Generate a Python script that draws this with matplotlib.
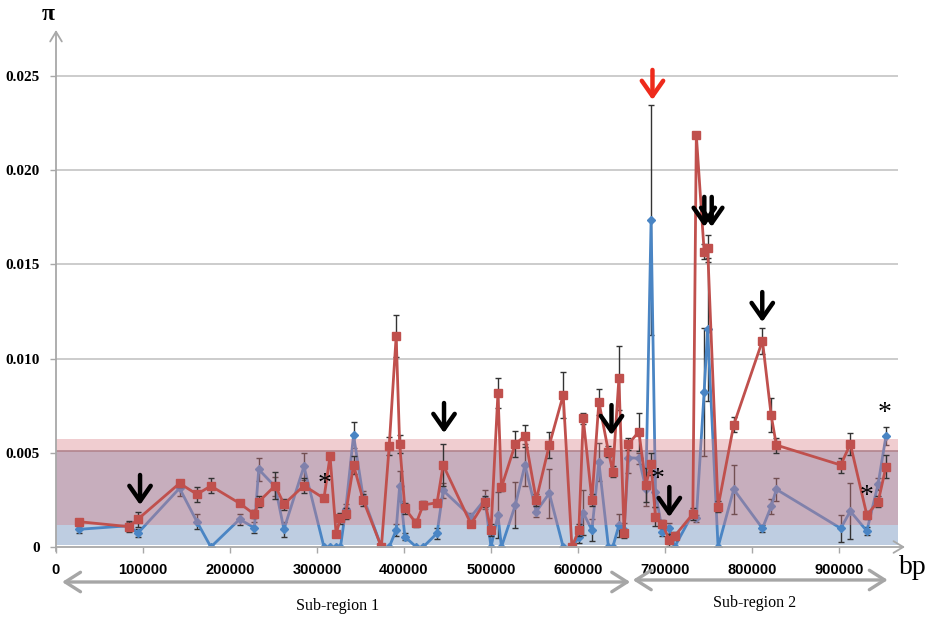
import numpy as np
import matplotlib
matplotlib.use("Agg")
import matplotlib.pyplot as plt

# ---------------- data ----------------
pos_bp = [27000, 84000, 94000, 142000, 162000, 178000, 211000, 228000, 233000, 252000,
          262000, 285000, 308000, 315000, 322000, 327000, 333000, 342000, 353000, 374000,
          383000, 391000, 395000, 401000, 414000, 422000, 438000, 445000, 477000, 493000,
          500000, 508000, 512000, 528000, 539000, 552000, 567000, 583000, 593000, 601000,
          606000, 616000, 624000, 635000, 640000, 647000, 653000, 658000, 670000, 678000,
          684000, 689000, 697000, 705000, 711000, 732000, 736000, 745000, 749000, 761000,
          779000, 812000, 822000, 828000, 902000, 913000, 932000, 945000, 954000]

pi_red = [0.00134, 0.00108, 0.00147, 0.00338, 0.00280, 0.00324, 0.00232, 0.00174, 0.00240, 0.00326,
          0.00227, 0.00326, 0.00258, 0.00483, 0.00069, 0.00152, 0.00177, 0.00435, 0.00250, 0.00000,
          0.00536, 0.01120, 0.00547, 0.00205, 0.00126, 0.00223, 0.00235, 0.00435, 0.00122, 0.00240,
          0.00090, 0.00819, 0.00317, 0.00547, 0.00589, 0.00250, 0.00541, 0.00807, 0.00000, 0.00090,
          0.00683, 0.00250, 0.00771, 0.00506, 0.00400, 0.00895, 0.00073, 0.00547, 0.00612, 0.00329,
          0.00440, 0.00161, 0.00122, 0.00037, 0.00058, 0.00175, 0.02187, 0.01567, 0.01585, 0.00214,
          0.00648, 0.01095, 0.00700, 0.00541, 0.00435, 0.00547, 0.00170, 0.00240, 0.00426]

pi_blue = [0.00094, 0.00113, 0.00073, 0.00312, 0.00134, 0.00000, 0.00147, 0.00102, 0.00412, 0.00320,
           0.00094, 0.00428, 0.00000, 0.00000, 0.00000, 0.00000, 0.00200, 0.00594, 0.00267, 0.00000,
           0.00000, 0.00090, 0.00324, 0.00055, 0.00000, 0.00000, 0.00073, 0.00300, 0.00161, 0.00253,
           0.00000, 0.00170, 0.00000, 0.00223, 0.00435, 0.00188, 0.00285, 0.00000, 0.00000, 0.00051,
           0.00182, 0.00090, 0.00450, 0.00000, 0.00000, 0.00115, 0.00090, 0.00474, 0.00471, 0.00310,
           0.01736, 0.00294, 0.00081, 0.00099, 0.00000, 0.00179, 0.00152, 0.00824, 0.01156, 0.00000,
           0.00306, 0.00099, 0.00215, 0.00306, 0.00099, 0.00190, 0.00085, 0.00335, 0.00589]

err_red = [0.0001, 0.0003, 0.0004, 0.0002, 0.0004, 0.0004, 0.0001, 0.0002, 0.0003, 0.0007,
           0.0003, 0.0004, 0.0001, 0.0001, 0.0001, 0.0003, 0.0003, 0.0005, 0.0003, 0.0000,
           0.0005, 0.0011, 0.0005, 0.0003, 0.0002, 0.0002, 0.0001, 0.0011, 0.0001, 0.0003,
           0.0003, 0.0008, 0.0002, 0.0007, 0.0006, 0.0003, 0.0007, 0.0012, 0.0000, 0.0003,
           0.0003, 0.0003, 0.0007, 0.0003, 0.0003, 0.0017, 0.0001, 0.0003, 0.0010, 0.0009,
           0.0006, 0.0005, 0.0002, 0.0003, 0.0002, 0.0003, 0.0000, 0.0004, 0.0007, 0.0003,
           0.0004, 0.0007, 0.0009, 0.0004, 0.0004, 0.0006, 0.0002, 0.0003, 0.0006]

err_blue = [0.0002, 0.0002, 0.0002, 0.0004, 0.0004, 0.0000, 0.0003, 0.0003, 0.0006, 0.0005,
            0.0004, 0.0007, 0.0000, 0.0000, 0.0000, 0.0000, 0.0003, 0.0007, 0.0003, 0.0000,
            0.0000, 0.0003, 0.0008, 0.0002, 0.0000, 0.0000, 0.0003, 0.0004, 0.0002, 0.0005,
            0.0000, 0.0012, 0.0000, 0.0012, 0.0011, 0.0003, 0.0013, 0.0000, 0.0000, 0.0003,
            0.0012, 0.0006, 0.0010, 0.0000, 0.0000, 0.0006, 0.0004, 0.0008, 0.0003, 0.0009,
            0.0061, 0.0008, 0.0002, 0.0003, 0.0000, 0.0002, 0.0002, 0.0034, 0.0038, 0.0000,
            0.0013, 0.0002, 0.0004, 0.0006, 0.0007, 0.0015, 0.0002, 0.0003, 0.0005]

x_ticks = [0, 100000, 200000, 300000, 400000, 500000, 600000, 700000, 800000, 900000]
x_tick_labels = ["0", "100000", "200000", "300000", "400000", "500000", "600000",
                 "700000", "800000", "900000"]
y_ticks = [0, 0.005, 0.010, 0.015, 0.020, 0.025]
y_tick_labels = ["0", "0.005", "0.010", "0.015", "0.020", "0.025"]

# shaded ranges
blue_band = (0.00012, 0.0051)
pink_band = (0.00117, 0.00573)

# sub-regions
sub_regions = [("Sub-region 1", 7000, 660000, 324000),
               ("Sub-region 2", 663000, 956000, 803000)]

# annotations: black arrows (x, tip value)
black_arrows = [(96600, 0.00223), (446000, 0.00605), (638500, 0.00594), (705000, 0.00159),
                (745200, 0.01699), (753700, 0.01699), (811800, 0.01194)]
red_arrows = [(685600, 0.02373)]
asterisks = [(308400, 0.0035), (691100, 0.00373), (931800, 0.00285), (952900, 0.00723)]

# ---------------- figure ----------------
W, H = 928, 621
fig = plt.figure(figsize=(W / 100, H / 100), dpi=100)
x0px, y0px = 56, 547
xmax_px, ytop_px = 905, 30
ax = fig.add_axes([x0px / W, (H - y0px) / H, (xmax_px - x0px) / W, (y0px - ytop_px) / H])
ax.set_facecolor("none")

px_per_bp = 0.00087
px_per_val = 18840.0
XMAX = (xmax_px - x0px) / px_per_bp
YMAX = (y0px - ytop_px) / px_per_val
ax.set_xlim(0, XMAX)
ax.set_ylim(0, YMAX)
grid_end = (898 - x0px) / px_per_bp

for s in ax.spines.values():
    s.set_visible(False)

# gridlines
ax.hlines(y_ticks[1:], 0, grid_end, color="#c8c8c8", lw=1.3, zorder=0.5)

# bands
frac_end = grid_end / XMAX
ax.axhspan(blue_band[0], blue_band[1], xmin=0, xmax=frac_end,
           color=(190 / 255, 205 / 255, 225 / 255), lw=0, zorder=1)
ax.hlines([blue_band[1]], 0, grid_end, color="#9b8a93", lw=1.2, zorder=1.2)

x = np.array(pos_bp)
yr = np.array(pi_red)
yb = np.array(pi_blue)
er = np.array(err_red)
eb = np.array(err_blue)

RED = "#c0504d"
BLUE = "#4a85c4"

# blue series (below pink band)
mb = eb > 0
ax.errorbar(x[mb], yb[mb], yerr=eb[mb], fmt="none", ecolor="#333333", elinewidth=1,
            capsize=2.5, capthick=1, zorder=2)
ax.plot(x, yb, color=BLUE, lw=2.0, marker="D", ms=4.5, mfc=BLUE, mec=BLUE, zorder=2.2)

ax.axhspan(pink_band[0], pink_band[1], xmin=0, xmax=frac_end,
           color=(216 / 255, 125 / 255, 133 / 255), alpha=0.385, lw=0, zorder=3)

# red series
mr = er > 0
ax.errorbar(x[mr], yr[mr], yerr=er[mr], fmt="none", ecolor="#333333", elinewidth=1,
            capsize=2.5, capthick=1, zorder=4)
ax.plot(x, yr, color=RED, lw=2.0, marker="s", ms=5.5, mfc=RED, mec=RED, zorder=4.2)

# axes lines with arrows
axis_col = "#a8a8a8"
ax.annotate("", xy=(1.0, 0), xytext=(0, 0), xycoords="axes fraction",
            arrowprops=dict(arrowstyle="->,head_length=0.5,head_width=0.3", color=axis_col,
                            lw=1.3, mutation_scale=14, shrinkA=0, shrinkB=0), zorder=5)
ax.annotate("", xy=(0, 1.0), xytext=(0, -0.008), xycoords="axes fraction",
            arrowprops=dict(arrowstyle="->,head_length=0.5,head_width=0.3", color=axis_col,
                            lw=1.3, mutation_scale=14, shrinkA=0, shrinkB=0), zorder=5)

# ticks
ax.set_xticks(x_ticks)
ax.set_xticklabels(x_tick_labels, fontfamily="Liberation Sans", fontweight="bold", fontsize=10.5)
ax.set_yticks(y_ticks)
ax.set_yticklabels(y_tick_labels, fontfamily="Liberation Serif", fontweight="bold", fontsize=11)
ax.tick_params(axis="x", length=4, width=1, color=axis_col, pad=7.5)
ax.tick_params(axis="y", length=4, width=1, color=axis_col, pad=7.5)

# axis titles
fig.text(48 / W, 1 - 14 / H, "π", ha="center", va="center", fontsize=17,
         fontweight="bold", fontfamily="Liberation Serif")
fig.text(913 / W, 1 - 568 / H, "bp", ha="center", va="center", fontsize=20,
         fontfamily="Liberation Serif")

# sub-region arrows
for i, (label, xa, xb, xc) in enumerate(sub_regions):
    yf = -0.0677 if i == 0 else -0.0638
    ax.annotate("", xy=(xb, yf), xytext=(xa, yf), xycoords=("data", "axes fraction"),
                arrowprops=dict(arrowstyle="<->,head_length=0.55,head_width=0.35",
                                color="#a6a6a6", lw=2.4, mutation_scale=20,
                                shrinkA=0, shrinkB=0), annotation_clip=False)
    ty = -0.114 if i == 0 else -0.108
    ax.text(xc, ty, label, transform=ax.get_xaxis_transform(), ha="center", va="center",
            fontsize=11.5, fontfamily="Liberation Serif", clip_on=False)

# down arrows
arrow_len = 30 / px_per_val
for (xa, ya) in black_arrows:
    ax.annotate("", xy=(xa, ya), xytext=(xa, ya + arrow_len),
                arrowprops=dict(arrowstyle="->,head_length=0.5,head_width=0.35", color="black",
                                lw=3.2, mutation_scale=22, shrinkA=0, shrinkB=0), zorder=6)
for (xa, ya) in red_arrows:
    ax.annotate("", xy=(xa, ya), xytext=(xa, ya + arrow_len),
                arrowprops=dict(arrowstyle="->,head_length=0.5,head_width=0.35", color="#ee2a1b",
                                lw=3.2, mutation_scale=22, shrinkA=0, shrinkB=0), zorder=6)

for (xa, ya) in asterisks:
    ax.text(xa, ya, "*", ha="center", va="center_baseline", fontsize=20,
            fontfamily="Liberation Serif", zorder=6)

fig.savefig("out.png", dpi=100)
